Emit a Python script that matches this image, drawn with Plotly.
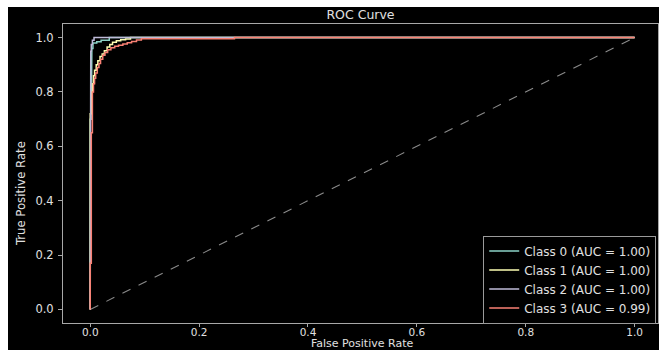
import plotly.graph_objects as go

# ---- data ----
class_names = ["Class 0 (AUC = 1.00)", "Class 1 (AUC = 1.00)",
               "Class 2 (AUC = 1.00)", "Class 3 (AUC = 0.99)"]
class_colors = ["#8dd3c7", "#feffb3", "#bfbbd9", "#fa8174"]

fpr0 = [0.0, 0.0, 0.002, 0.002, 0.003, 0.003, 0.005, 0.005, 0.012, 0.012, 0.020, 0.020, 0.035, 0.035, 1.0]
tpr0 = [0.0, 0.70, 0.70, 0.90, 0.90, 0.96, 0.96, 0.98, 0.98, 0.985, 0.985, 0.99, 0.99, 1.0, 1.0]

fpr1 = [0.0, 0.0, 0.002, 0.002, 0.004, 0.004, 0.006, 0.006, 0.008, 0.008, 0.011, 0.011,
        0.014, 0.014, 0.018, 0.018, 0.022, 0.022, 0.026, 0.026, 0.031, 0.031, 0.036, 0.036,
        0.041, 0.041, 0.048, 0.048, 0.056, 0.056, 0.065, 0.065, 0.074, 0.074, 1.0]
tpr1 = [0.0, 0.72, 0.72, 0.80, 0.80, 0.83, 0.83, 0.86, 0.86, 0.88, 0.88, 0.90,
        0.90, 0.915, 0.915, 0.93, 0.93, 0.94, 0.94, 0.952, 0.952, 0.965, 0.965, 0.975,
        0.975, 0.983, 0.983, 0.988, 0.988, 0.992, 0.992, 0.995, 0.995, 1.0, 1.0]

fpr2 = [0.0, 0.0, 0.001, 0.001, 0.002, 0.002, 0.004, 0.004, 0.007, 0.007, 1.0]
tpr2 = [0.0, 0.75, 0.75, 0.95, 0.95, 0.975, 0.975, 0.99, 0.99, 1.0, 1.0]

fpr3 = [0.0, 0.0, 0.002, 0.002, 0.004, 0.004, 0.006, 0.006, 0.008, 0.008, 0.010, 0.010,
        0.013, 0.013, 0.016, 0.016, 0.019, 0.019, 0.023, 0.023, 0.027, 0.027, 0.032, 0.032,
        0.038, 0.038, 0.045, 0.045, 0.052, 0.052, 0.060, 0.060, 0.068, 0.068, 0.076, 0.076,
        0.085, 0.085, 0.094, 0.094, 0.265, 0.265, 1.0]
tpr3 = [0.0, 0.17, 0.17, 0.65, 0.65, 0.80, 0.80, 0.83, 0.83, 0.85, 0.85, 0.87,
        0.87, 0.89, 0.89, 0.905, 0.905, 0.92, 0.92, 0.935, 0.935, 0.945, 0.945, 0.955,
        0.955, 0.963, 0.963, 0.968, 0.968, 0.972, 0.972, 0.976, 0.976, 0.981, 0.981, 0.986,
        0.986, 0.991, 0.991, 0.996, 0.996, 1.0, 1.0]

chance_x = [0.0, 1.0]
chance_y = [0.0, 1.0]

tick_vals = [0.0, 0.2, 0.4, 0.6, 0.8, 1.0]
tick_text = ["0.0", "0.2", "0.4", "0.6", "0.8", "1.0"]

title_text = "ROC Curve"
x_title = "False Positive Rate"
y_title = "True Positive Rate"

# ---- figure ----
W, H = 659, 350
ML, MR, MT, MB = 63, 1, 24, 27
PW, PH = W - ML - MR, H - MT - MB

fig = go.Figure()
fig.add_trace(go.Scatter(x=chance_x, y=chance_y, mode="lines", showlegend=False,
                         line=dict(color="#8a8a8a", width=1.1, dash="dash"),
                         hoverinfo="skip"))
for fx, ty, name, col in zip([fpr0, fpr1, fpr2, fpr3], [tpr0, tpr1, tpr2, tpr3],
                             class_names, class_colors):
    fig.add_trace(go.Scatter(x=fx, y=ty, mode="lines", name=name,
                             line=dict(color=col, width=1.5)))

axis_col = "#a8a8a8"
text_col = "#e0e0e0"
font_main = "DejaVu Sans, Verdana, sans-serif"
font_narrow = "DejaVu Sans Condensed, Liberation Sans Narrow, DejaVu Sans"


def px2paper_x(p):
    return (p - ML) / PW


def px2paper_y(p):
    return (H - MB - p) / PH


fig.update_layout(
    width=W, height=H,
    margin=dict(l=ML, r=MR, t=MT, b=MB, pad=0, autoexpand=False),
    paper_bgcolor="white",
    plot_bgcolor="black",
    font=dict(family=font_main, size=11, color=text_col),
    title=dict(text=title_text, x=(ML + PW / 2) / W, xanchor="center",
               y=1 - 15 / H, yanchor="middle",
               font=dict(size=12.5, color=text_col, family=font_main)),
    showlegend=True,
    legend=dict(x=0.997, y=-0.002, xanchor="right", yanchor="bottom",
                bgcolor="rgba(0,0,0,0.8)", bordercolor="#9a9a9a", borderwidth=1,
                font=dict(size=12, color=text_col, family=font_main),
                tracegroupgap=0, itemwidth=30),
    shapes=[dict(type="rect", xref="paper", yref="paper", layer="below",
                 x0=px2paper_x(8), x1=px2paper_x(W + 5),
                 y0=px2paper_y(H + 5), y1=px2paper_y(7),
                 fillcolor="black", line=dict(width=0))],
    annotations=[
        dict(text=x_title, xref="paper", yref="paper",
             x=px2paper_x(362), y=px2paper_y(343), xanchor="center", yanchor="middle",
             showarrow=False, font=dict(size=11, color=text_col, family=font_main)),
        dict(text=y_title, xref="paper", yref="paper", textangle=-90,
             x=px2paper_x(20), y=px2paper_y(193), xanchor="center", yanchor="middle",
             showarrow=False, font=dict(size=13, color=text_col, family=font_narrow)),
    ],
)

fig.update_xaxes(range=[-0.05, 1.043], tickvals=tick_vals, ticktext=tick_text,
                 showgrid=False, zeroline=False, showline=True, mirror=True,
                 linecolor=axis_col, linewidth=1, ticks="outside", ticklen=3,
                 tickcolor=axis_col, tickfont=dict(size=10.5, color=text_col),
                 ticklabelstandoff=-4, automargin=False)
fig.update_yaxes(range=[-0.05, 1.05], tickvals=tick_vals, ticktext=tick_text,
                 showgrid=False, zeroline=False, showline=True, mirror=True,
                 linecolor=axis_col, linewidth=1, ticks="outside", ticklen=4,
                 tickcolor=axis_col, tickfont=dict(size=11.5, color=text_col),
                 ticklabelstandoff=2, automargin=False)

fig.write_html("out.html")
